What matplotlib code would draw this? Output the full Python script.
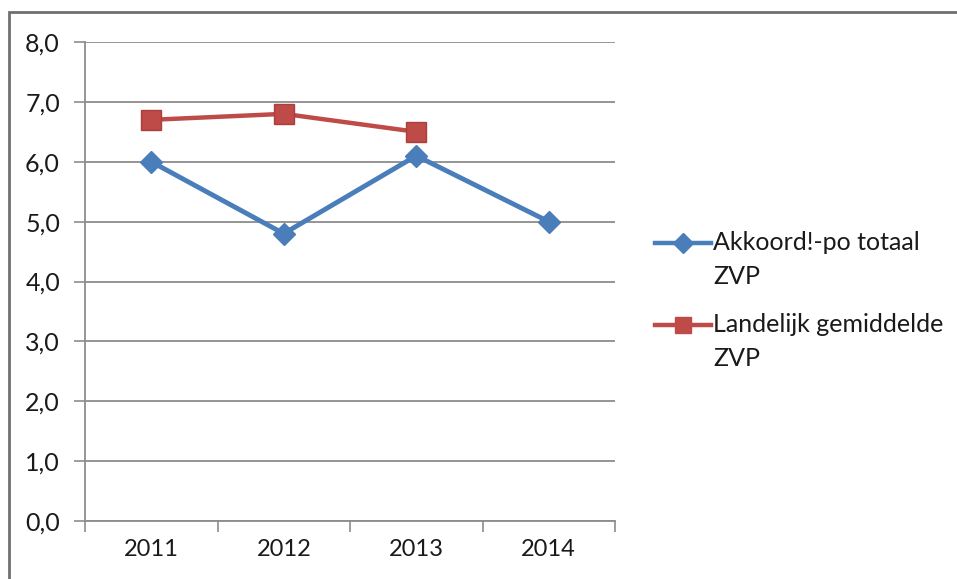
import matplotlib.pyplot as plt
from matplotlib.lines import Line2D
from matplotlib.patches import Rectangle

# Data
jaren = ["2011", "2012", "2013", "2014"]
akkoord_zvp = [6.0, 4.8, 6.1, 5.0]
landelijk_zvp = [6.7, 6.8, 6.5]
y_ticks = [0, 1, 2, 3, 4, 5, 6, 7, 8]

blauw = "#4A7EBB"
rood = "#BE4B48"
grid_kleur = "#8C8C8C"
tekst_kleur = "#1A1A1A"

plt.rcParams["font.family"] = ["Lato", "DejaVu Sans"]

fig = plt.figure(figsize=(9.57, 5.79), dpi=100)
ax = fig.add_axes([85 / 957, 1 - 521 / 579, 530 / 957, 479 / 579])

x = list(range(len(jaren)))
ax.plot(x, akkoord_zvp, color=blauw, lw=3.5, marker="D", ms=11,
        mfc=blauw, mec=blauw, zorder=3)
ax.plot(x[:len(landelijk_zvp)], landelijk_zvp, color=rood, lw=3.2, marker="s",
        ms=14, mfc=rood, mec="#A9403D", mew=1, zorder=4)

ax.set_xlim(-0.5, len(jaren) - 0.5)
ax.set_ylim(0, 8)
ax.set_yticks(y_ticks)
ax.set_yticklabels([f"{v:.1f}".replace(".", ",") for v in y_ticks])
ax.yaxis.grid(True, color=grid_kleur, lw=1.3)
ax.set_axisbelow(True)

# jaartallen tussen de streepjes, streepjes op de categoriegrenzen
ax.set_xticks([i - 0.5 for i in range(len(jaren) + 1)])
ax.set_xticklabels([])
ax.set_xticks(x, minor=True)
ax.set_xticklabels(jaren, minor=True)
ax.tick_params(axis="x", which="minor", length=0, pad=13, labelsize=17,
               colors=tekst_kleur)
ax.tick_params(axis="x", which="major", length=8, width=1.2, color=grid_kleur)
ax.tick_params(axis="y", length=8, width=1.2, color=grid_kleur, pad=10,
               labelsize=18, labelcolor=tekst_kleur)

for kant in ["top", "right"]:
    ax.spines[kant].set_visible(False)
for kant in ["left", "bottom"]:
    ax.spines[kant].set_color(grid_kleur)
    ax.spines[kant].set_linewidth(1.3)

# legenda rechts naast de grafiek
def legenda_item(y_px, kleur, marker, ms, regels):
    y = 1 - y_px / 579
    fig.add_artist(Line2D([655 / 957, 711 / 957], [y, y], color=kleur, lw=3.2,
                          transform=fig.transFigure))
    fig.add_artist(Line2D([683 / 957], [y], color=kleur, marker=marker, ms=ms,
                          mfc=kleur, mec=kleur, transform=fig.transFigure))
    fig.text(713 / 957, y, regels[0], fontsize=18, va="center", ha="left",
             color=tekst_kleur)
    fig.text(713 / 957, y - 34 / 579, regels[1], fontsize=18, va="center",
             ha="left", color=tekst_kleur)

legenda_item(243, blauw, "D", 10, ["Akkoord!-po totaal", "ZVP"])
legenda_item(325, rood, "s", 12, ["Landelijk gemiddelde", "ZVP"])

# kader om de figuur
fig.add_artist(Rectangle((9 / 957, -0.05), 1.0, 1.05 - 12 / 579,
                         transform=fig.transFigure, fill=False,
                         edgecolor="#707070", lw=2))

fig.savefig("out.png", dpi=100)
